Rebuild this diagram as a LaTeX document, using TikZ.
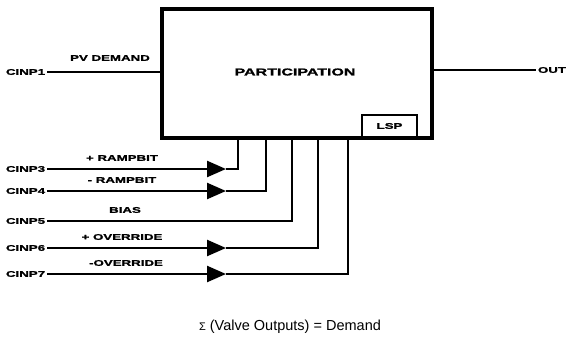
\documentclass[tikz,border=0pt]{standalone}
\usepackage{fontspec}
\setmainfont{Liberation Sans}
\newfontfamily\lab{Liberation Sans}[FakeStretch=1.6,FakeBold=1.5]
\usetikzlibrary{arrows.meta}
\begin{document}
\begin{tikzpicture}[x=1pt,y=-1pt,
  txt/.style={font=\lab\bfseries\fontsize{8.3}{9}\selectfont, inner sep=0pt, outer sep=2pt},
  wire/.style={line width=2.4pt},
  arr/.style={wire, -{Triangle[length=19pt,width=16pt]}},
  blk/.style={draw, line width=3.2pt, inner sep=0pt}]
\useasboundingbox (0,0) rectangle (570,356);
% main block
\node[blk, minimum width=270pt, minimum height=129pt] (box) at (297,73.5) {};
\node[txt, font=\lab\bfseries\fontsize{10}{11}\selectfont] (title) at (295,72) {PARTICIPATION};
\node[blk, line width=2.6pt, minimum width=55pt, minimum height=22pt] (lsp) at (389.5,126) {};
\node[txt] (lsptext) at (lsp.center) {LSP};
% top input and output
\node[txt, anchor=west] (c1) at (4,72) {CINP1};
\node[txt] (pv) at (110,58) {PV DEMAND};
\draw[wire] (c1.east) -- (c1.east -| box.west);
\node[txt, anchor=west] (out) at (536,70) {OUT};
\draw[wire] (out.west -| box.east) -- (out.west);
% lower inputs
\node[txt, anchor=west] (c3) at (4,169) {CINP3};
\node[txt, anchor=west] (c4) at (4,191) {CINP4};
\node[txt, anchor=west] (c5) at (4,221) {CINP5};
\node[txt, anchor=west] (c6) at (4,248) {CINP6};
\node[txt, anchor=west] (c7) at (4,274) {CINP7};
\node[txt] (l3) at (122,158) {+ RAMPBIT};
\node[txt] (l4) at (122,180) {- RAMPBIT};
\node[txt] (l5) at (125,210) {BIAS};
\node[txt] (l6) at (122,237) {+ OVERRIDE};
\node[txt] (l7) at (126,263) {-OVERRIDE};
\coordinate (a3) at (226,169);
\coordinate (a4) at (226,191);
\coordinate (a6) at (226,248);
\coordinate (a7) at (226,274);
\coordinate (k3) at (238,169);
\coordinate (k4) at (266,191);
\coordinate (k5) at (292,221);
\coordinate (k6) at (318,248);
\coordinate (k7) at (348,274);
\draw[arr] (c3.east) -- (a3);
\draw[wire] (a3) -- (k3) -- (k3 |- box.south);
\draw[arr] (c4.east) -- (a4);
\draw[wire] (a4) -- (k4) -- (k4 |- box.south);
\draw[wire] (c5.east) -- (k5) -- (k5 |- box.south);
\draw[arr] (c6.east) -- (a6);
\draw[wire] (a6) -- (k6) -- (k6 |- box.south);
\draw[arr] (c7.east) -- (a7);
\draw[wire] (a7) -- (k7) -- (k7 |- box.south);
% formula
\node[font=\fontsize{14.5}{16}\selectfont, inner sep=0pt] (eq) at (290,327) {{\fontsize{11}{12}\selectfont Σ} (Valve Outputs) = Demand};
\end{tikzpicture}
\end{document}
